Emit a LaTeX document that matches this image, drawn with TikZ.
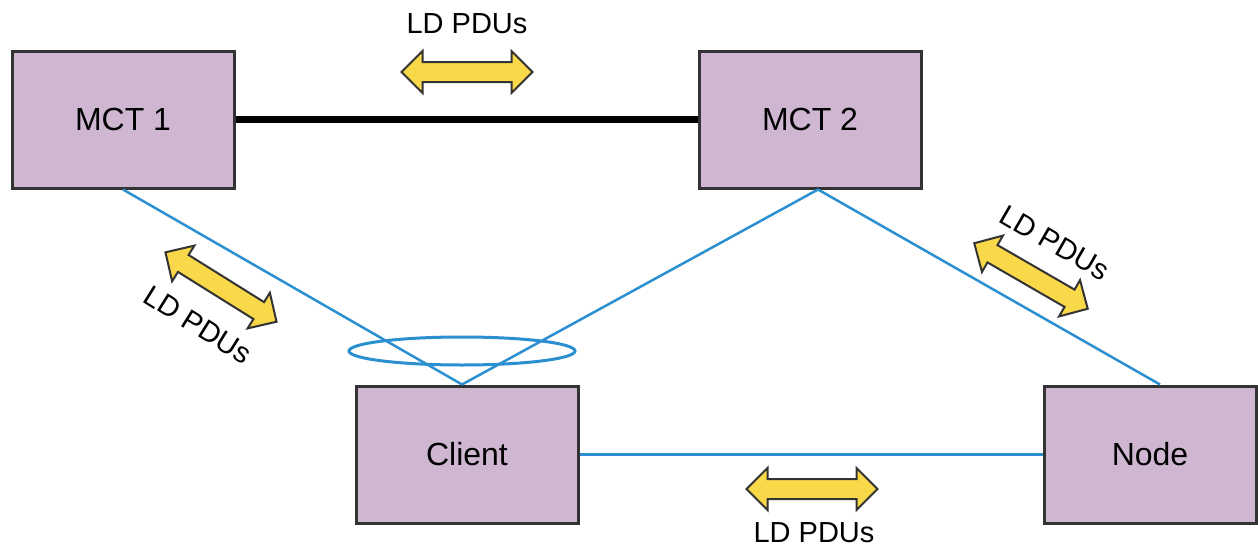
\documentclass[tikz,border=0pt]{standalone}
\usepackage{fontspec}
\setmainfont{Liberation Sans}
\usetikzlibrary{shapes.arrows,shapes.geometric,calc}
\definecolor{boxfill}{HTML}{CFB7D2}
\definecolor{boxline}{HTML}{333333}
\definecolor{linkblue}{HTML}{2B8FD0}
\definecolor{arrowyellow}{HTML}{F9D849}
\tikzset{
  devbox/.style={draw=boxline, line width=3pt, fill=boxfill, minimum width=222pt, minimum height=137pt, inner sep=0pt, font=\fontsize{32}{38}\selectfont},
  ldarrow/.style={shape=double arrow, draw=boxline, line width=2pt, fill=arrowyellow, minimum height=131pt, inner xsep=0pt, inner ysep=9pt, double arrow head extend=11pt, double arrow tip angle=90},
  ldlabel/.style={font=\fontsize{29}{34}\selectfont, inner sep=0pt},
  bluelink/.style={draw=linkblue, line width=2.5pt}
}
\begin{document}
\begin{tikzpicture}[x=1pt,y=-1pt]
\useasboundingbox (0,0) rectangle (1258,546);
\node[devbox] (mct1) at (123,119.5) {MCT 1};
\node[devbox] (mct2) at (810,119.5) {MCT 2};
\node[devbox] (client) at (467,454.5) {Client};
\node[devbox, minimum width=212pt] (nd) at (1150,454.5) {Node};
\coordinate (cm) at ($(client.north)+(-5,0)$);
\coordinate (m2) at ($(mct2.south)+(8,0)$);
\draw[line width=6.5pt, black] (mct1.east) -- (mct2.west);
\draw[bluelink] (mct1.south) -- (cm);
\draw[bluelink] (m2) -- (cm);
\draw[bluelink] (m2) -- ($(nd.north)+(10,0)$);
\draw[bluelink] (client.east) -- (nd.west);
\node[draw=linkblue, line width=3pt, shape=ellipse, minimum width=226pt, minimum height=28pt, inner sep=0pt] (lag) at (462,351) {};
\node[ldarrow] (a1) at (467,72) {};
\node[ldlabel] (t1) at (467,24) {LD PDUs};
\node[ldarrow, rotate=-32] (a2) at (221,287) {};
\node[ldlabel, rotate=-32] (t2) at (198,325) {LD PDUs};
\node[ldarrow, rotate=-30] (a3) at (1031,276) {};
\node[ldlabel, rotate=-30] (t3) at (1055,243) {LD PDUs};
\node[ldarrow] (a4) at (812,489) {};
\node[ldlabel] (t4) at (814,533) {LD PDUs};
\end{tikzpicture}
\end{document}
